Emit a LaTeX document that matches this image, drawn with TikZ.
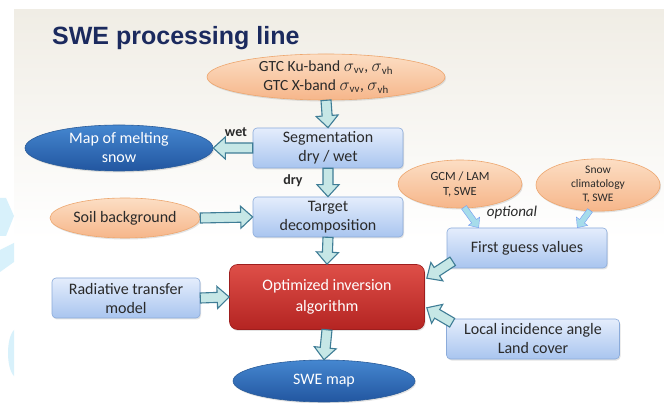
\documentclass[tikz,border=0pt]{standalone}
\usepackage{fontspec}
\setmainfont{Carlito}
\newfontfamily\titlefont{Liberation Sans}
\usetikzlibrary{shapes.geometric,calc,shadows}
\definecolor{boxtop}{HTML}{E4EDFC}
\definecolor{boxbot}{HTML}{A9C5EF}
\definecolor{boxline}{HTML}{8BABDA}
\definecolor{ortop}{HTML}{FCDEC4}
\definecolor{orbot}{HTML}{F6B68A}
\definecolor{orline}{HTML}{EDA66E}
\definecolor{bltop}{HTML}{4587D0}
\definecolor{blbot}{HTML}{2256A0}
\definecolor{blline}{HTML}{2A5C9A}
\definecolor{rdtop}{HTML}{DE4F48}
\definecolor{rdbot}{HTML}{B42422}
\definecolor{rdline}{HTML}{9E1E1E}
\definecolor{arfill}{HTML}{C6E7E6}
\definecolor{arline}{HTML}{3F7D96}
\definecolor{arlight}{HTML}{A6DCEB}
\definecolor{titlecol}{HTML}{1B2A5E}
\definecolor{bgbeige}{HTML}{F0EDE5}
\definecolor{decocyan}{HTML}{D8F1FB}
\definecolor{txt}{HTML}{2A2A2A}
\tikzset{
  x=1pt, y=-1pt,
  shad/.style={drop shadow={opacity=0.22, shadow xshift=1pt, shadow yshift=-1.5pt}},
  bluebox/.style={shad, draw=boxline, line width=0.6pt, rounded corners=4pt,
    top color=boxtop, bottom color=boxbot, align=center, text=txt,
    inner sep=0pt, font=\fontsize{16}{19}\selectfont},
  redbox/.style={shad, draw=rdline, line width=0.6pt, rounded corners=8pt,
    top color=rdtop, bottom color=rdbot, align=center, text=white,
    inner sep=0pt, font=\fontsize{16}{21}\selectfont},
  orell/.style={shad, ellipse, draw=orline, line width=0.6pt, top color=ortop,
    bottom color=orbot, align=center, text=txt, inner sep=0pt,
    font=\fontsize{16}{19}\selectfont},
  blell/.style={shad, ellipse, draw=blline, line width=0.6pt, top color=bltop,
    bottom color=blbot, align=center, text=white, inner sep=0pt,
    font=\fontsize{16}{19}\selectfont},
  barr/.style={fill=arfill, draw=arline, line width=1.1pt, line join=miter},
  lightarr/.style={fill=arlight, draw=arlight!70!blue, line width=0.4pt},
  lbl/.style={inner sep=0pt, text=txt, font=\fontsize{14}{16}\selectfont\bfseries},
}
\newcommand\sgm[1]{$\mbox{\fontsize{19}{19}\selectfont$\sigma$}_{\mathrm{#1}}$}
% #1 style, #2 from, #3 to, #4 half shaft, #5 half head, #6 head length
\newcommand\blockarr[6][barr]{%
  \draw[#1] ($(#2)!#4!90:(#3)$) -- ($(#3)!#6!(#2)!#4!-90:(#2)$)
    -- ($(#3)!#6!(#2)!#5!-90:(#2)$) -- (#3)
    -- ($(#3)!#6!(#2)!#5!90:(#2)$) -- ($(#3)!#6!(#2)!#4!90:(#2)$)
    -- ($(#2)!#4!-90:(#3)$) -- cycle;}
\begin{document}
\begin{tikzpicture}
\useasboundingbox (0,0) rectangle (664,403);
\fill[white] (0,0) rectangle (664,403);
\shade[top color=bgbeige, bottom color=white] (14,10) rectangle (664,240);
% decorative shapes at left
\fill[decocyan] (0,198) -- (6,198) -- (14,216) -- (6,236) -- (0,236) -- cycle;
\fill[decocyan] (0,250) -- (14,243) -- (14,262) -- (0,272) -- cycle;
\fill[decocyan] (14,330) .. controls (6,338) and (6,368) .. (14,376) -- cycle;
% title
\node[anchor=base west, inner sep=0pt, text=titlecol,
  font=\titlefont\fontsize{25}{28}\selectfont\bfseries] (title) at (52,45) {SWE processing line};
% nodes
\node[orell, minimum width=238, minimum height=46, font=\fontsize{15.5}{19}\selectfont] (gtc) at (326,77)
  {GTC Ku-band \sgm{vv}, \sgm{vh}\\GTC X-band \sgm{vv}, \sgm{vh}};
\node[bluebox, minimum width=150, minimum height=40] (seg) at (328,148) {Segmentation\\dry / wet};
\node[blell, minimum width=188, minimum height=46] (melt) at (119,148) {Map of melting\\snow};
\node[bluebox, minimum width=150, minimum height=40] (td) at (328,217) {Target\\decomposition};
\node[orell, minimum width=150, minimum height=40] (soil) at (125,218) {Soil background};
\node[orell, minimum width=124, minimum height=48, font=\fontsize{12.5}{15}\selectfont] (gcm) at (460,184) {GCM / LAM\\T, SWE};
\node[orell, minimum width=124, minimum height=50, font=\fontsize{11.5}{14}\selectfont] (snow) at (598,185) {Snow\\climatology\\T, SWE};
\node[bluebox, minimum width=160, minimum height=40] (fg) at (527,248) {First guess values};
\node[redbox, minimum width=195, minimum height=65] (opt) at (327,297) {Optimized inversion\\algorithm};
\node[bluebox, minimum width=148, minimum height=40] (rad) at (126,298) {Radiative transfer\\model};
\node[bluebox, minimum width=173, minimum height=40] (loc) at (533,339) {Local incidence angle\\Land cover};
\node[blell, minimum width=182, minimum height=42] (swe) at (324,381) {SWE map};
% labels
\node[lbl] (wet) at (236,132) {wet};
\node[lbl] (dry) at (293,181) {dry};
\node[inner sep=0pt, text=txt, font=\fontsize{15}{17}\selectfont\itshape] (optl) at (512,213) {optional};
% connector end points
\coordinate (fgA) at ($(fg.south west)+(6,-7)$);
\coordinate (optA) at ($(opt.north east)+(2,14)$);
\coordinate (locA) at ($(loc.north west)+(6,4)$);
\coordinate (optB) at ($(opt.south east)+(2,-22)$);
\coordinate (gcmA) at ($(gcm.south)+(4,-1)$);
\coordinate (fgB) at ($(fg.north west)+(32,0)$);
\coordinate (snowA) at ($(snow.south)+(-8,-1)$);
\coordinate (fgC) at ($(fg.north east)+(-30,0)$);
% arrows
\blockarr{gtc.south}{seg.north}{5pt}{11pt}{12pt}
\blockarr{seg.west}{melt.east}{5pt}{11pt}{12pt}
\blockarr{seg.south}{td.north}{5pt}{11pt}{12pt}
\blockarr{soil.east}{td.west}{5pt}{11pt}{12pt}
\blockarr{td.south}{opt.north}{5pt}{11pt}{12pt}
\blockarr{rad.east}{opt.west}{5pt}{11pt}{12pt}
\blockarr{fgA}{optA}{5pt}{11pt}{12pt}
\blockarr{locA}{optB}{5pt}{11pt}{12pt}
\blockarr{opt.south}{swe.north}{5pt}{11pt}{12pt}
\blockarr[lightarr]{gcmA}{fgB}{3pt}{7pt}{8pt}
\blockarr[lightarr]{snowA}{fgC}{3pt}{7pt}{8pt}
\end{tikzpicture}
\end{document}
